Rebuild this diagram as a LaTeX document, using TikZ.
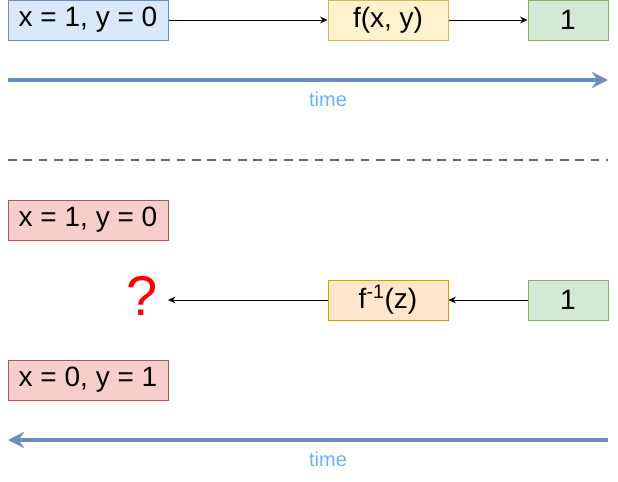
\documentclass[tikz,border=0pt]{standalone}
\usepackage{fontspec}
\setmainfont{Liberation Sans}
\usetikzlibrary{arrows.meta,positioning}

\definecolor{blueFill}{HTML}{DAE8FC}
\definecolor{blueLine}{HTML}{6C8EBF}
\definecolor{yellowFill}{HTML}{FFF2CC}
\definecolor{yellowLine}{HTML}{D6B656}
\definecolor{greenFill}{HTML}{D5E8D4}
\definecolor{greenLine}{HTML}{82B366}
\definecolor{redFill}{HTML}{F8CECC}
\definecolor{redLine}{HTML}{B85450}
\definecolor{orangeFill}{HTML}{FFE6CC}
\definecolor{orangeLine}{HTML}{D79B00}
\definecolor{timeText}{HTML}{66B2FF}
\definecolor{dashGray}{HTML}{666666}

\begin{document}
\begin{tikzpicture}[
    x=0.75pt, y=-0.75pt,
    box/.style={draw, line width=0.75pt, inner sep=0pt, minimum height=30pt, font=\fontsize{21}{24}\selectfont},
    wide/.style={box, minimum width=120pt},
    narrow/.style={box, minimum width=90pt},
    small/.style={box, minimum width=60pt},
    edge/.style={-{Stealth[length=5.5pt, width=5pt]}, line width=0.6pt},
    timeline/.style={-{Stealth[length=12pt, width=12pt, inset=4pt]}, line width=2.3pt, blueLine},
    timelabel/.style={text=timeText, font=\fontsize{15}{17}\selectfont}
]
    \useasboundingbox (0,0) rectangle (618,482);

    % forward direction
    \node[wide, fill=blueFill, draw=blueLine] (xy) at (88,20) {x = 1, y = 0};
    \node[narrow, fill=yellowFill, draw=yellowLine] (f) at (388,20) {f(x, y)};
    \node[small, fill=greenFill, draw=greenLine] (z) at (568,20) {1};
    \draw[edge] (xy) -- (f);
    \draw[edge] (f) -- (z);

    \coordinate (t1a) at (8,80);
    \coordinate (t1b) at (608,80);
    \draw[timeline] (t1a) -- (t1b);
    \node[timelabel] (time1) at (328,99) {time};

    % separator
    \coordinate (sepa) at (8,160);
    \coordinate (sepb) at (608,160);
    \draw[dashGray, line width=2pt, dash pattern=on 6.5pt off 5pt] (sepa) -- (sepb);

    % inverse direction
    \node[wide, fill=redFill, draw=redLine] (xya) at (88,220) {x = 1, y = 0};
    \node[font=\fontsize{42}{46}\selectfont, text=red] (q) at (142,296) {?};
    \coordinate (qend) at (168,300);
    \node[narrow, fill=orangeFill, draw=orangeLine] (finv) at (388,300) {f\textsuperscript{-1}(z)};
    \node[small, fill=greenFill, draw=greenLine] (zb) at (568,300) {1};
    \node[wide, fill=redFill, draw=redLine] (xyb) at (88,380) {x = 0, y = 1};
    \draw[edge] (zb) -- (finv);
    \draw[edge] (finv) -- (qend);

    \coordinate (t2a) at (608,440);
    \coordinate (t2b) at (8,440);
    \draw[timeline] (t2a) -- (t2b);
    \node[timelabel] (time2) at (328,459) {time};
\end{tikzpicture}
\end{document}
